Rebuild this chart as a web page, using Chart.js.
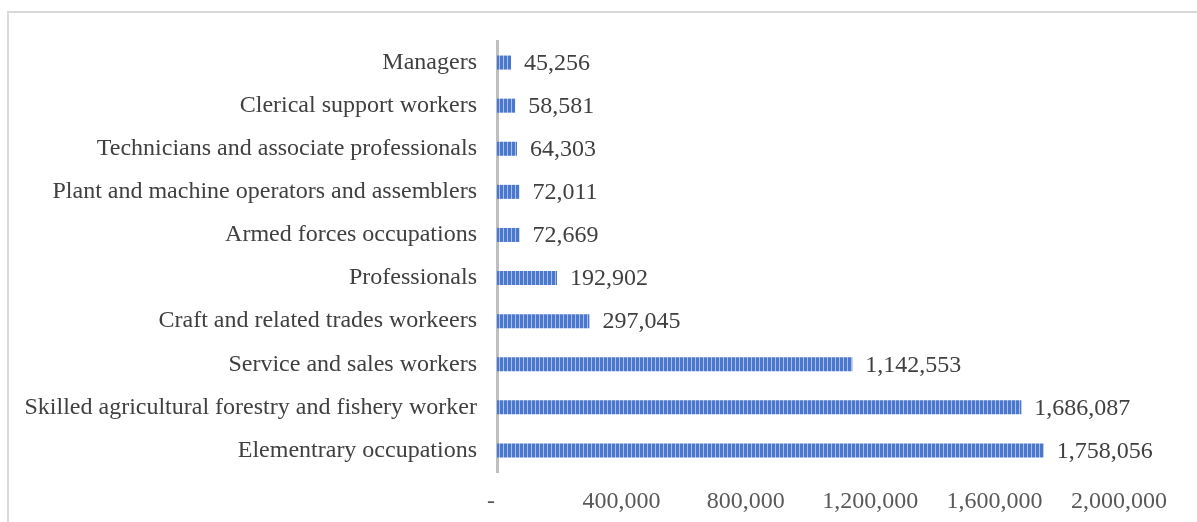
<!DOCTYPE html>
<html>
<head>
<meta charset="utf-8">
<script src="https://cdn.jsdelivr.net/npm/chart.js@4"></script>
<style>
  html, body { margin: 0; padding: 0; background: #fff; }
  #wrap { position: relative; width: 1197px; height: 522px; overflow: hidden; }
  #frame { position: absolute; left: 7px; top: 11px; width: 1200px; height: 520px;
           border-left: 2px solid #d9d9d9; border-top: 2px solid #d9d9d9; }
  canvas { position: absolute; left: 0; top: 0; }
</style>
</head>
<body>
<div id="wrap">
  <div id="frame"></div>
  <canvas id="myChart" width="1197" height="522"></canvas>
</div>
<script>
const occupations = [
  'Managers',
  'Clerical support workers',
  'Technicians and associate professionals',
  'Plant and machine operators and assemblers',
  'Armed forces occupations',
  'Professionals',
  'Craft and related trades workeers',
  'Service and sales workers',
  'Skilled agricultural forestry and fishery worker',
  'Elementrary occupations'
];
const workers = [45256, 58581, 64303, 72011, 72669, 192902, 297045, 1142553, 1686087, 1758056];
const tickValues = [0, 400000, 800000, 1200000, 1600000, 2000000];

const FONT = '"Liberation Serif", "Times New Roman", serif';

// vertical stripe fill like the original bars
function stripes() {
  const c = document.createElement('canvas');
  c.width = 4; c.height = 4;
  const g = c.getContext('2d');
  g.fillStyle = '#4a78cc';
  g.fillRect(0, 0, 4, 4);
  g.fillStyle = '#a8bde8';
  g.fillRect(3, 0, 1, 4);
  return g.createPattern(c, 'repeat');
}

const valueLabels = {
  id: 'valueLabels',
  afterDatasetsDraw(chart) {
    const ctx = chart.ctx;
    const meta = chart.getDatasetMeta(0);
    ctx.save();
    ctx.font = '24px ' + FONT;
    ctx.fillStyle = '#404040';
    ctx.textBaseline = 'middle';
    ctx.textAlign = 'left';
    meta.data.forEach(function (bar, i) {
      ctx.fillText(workers[i].toLocaleString('en-US'), bar.x + 13, bar.y + 1);
    });
    ctx.restore();
  }
};

const ctx = document.getElementById('myChart').getContext('2d');
const myChart = new Chart(ctx, {
  type: 'bar',
  data: {
    labels: occupations,
    datasets: [{
      data: workers,
      backgroundColor: stripes(),
      borderWidth: 0,
      barPercentage: 0.65,
      categoryPercentage: 0.5
    }]
  },
  options: {
    indexAxis: 'y',
    responsive: false,
    animation: false,
    layout: { padding: { top: 41, right: 78, bottom: 0, left: 0 } },
    plugins: {
      legend: { display: false },
      tooltip: { enabled: false }
    },
    scales: {
      y: {
        afterFit(scale) { scale.width = 497; },
        grid: { display: false, drawTicks: false },
        border: { display: true, color: '#bfbfbf', width: 3 },
        ticks: {
          padding: 20,
          color: '#404040',
          font: { family: FONT, size: 24 }
        }
      },
      x: {
        min: 0,
        max: 2000000,
        afterFit(scale) { scale.height = 50; },
        afterBuildTicks(scale) { scale.ticks = tickValues.map(v => ({ value: v })); },
        grid: { display: false, drawTicks: false },
        border: { display: false },
        ticks: {
          padding: 15,
          color: '#595959',
          font: { family: FONT, size: 24 },
          callback: function (v) { return v === 0 ? '-  ' : v.toLocaleString('en-US'); }
        }
      }
    }
  },
  plugins: [valueLabels]
});
</script>
</body>
</html>
